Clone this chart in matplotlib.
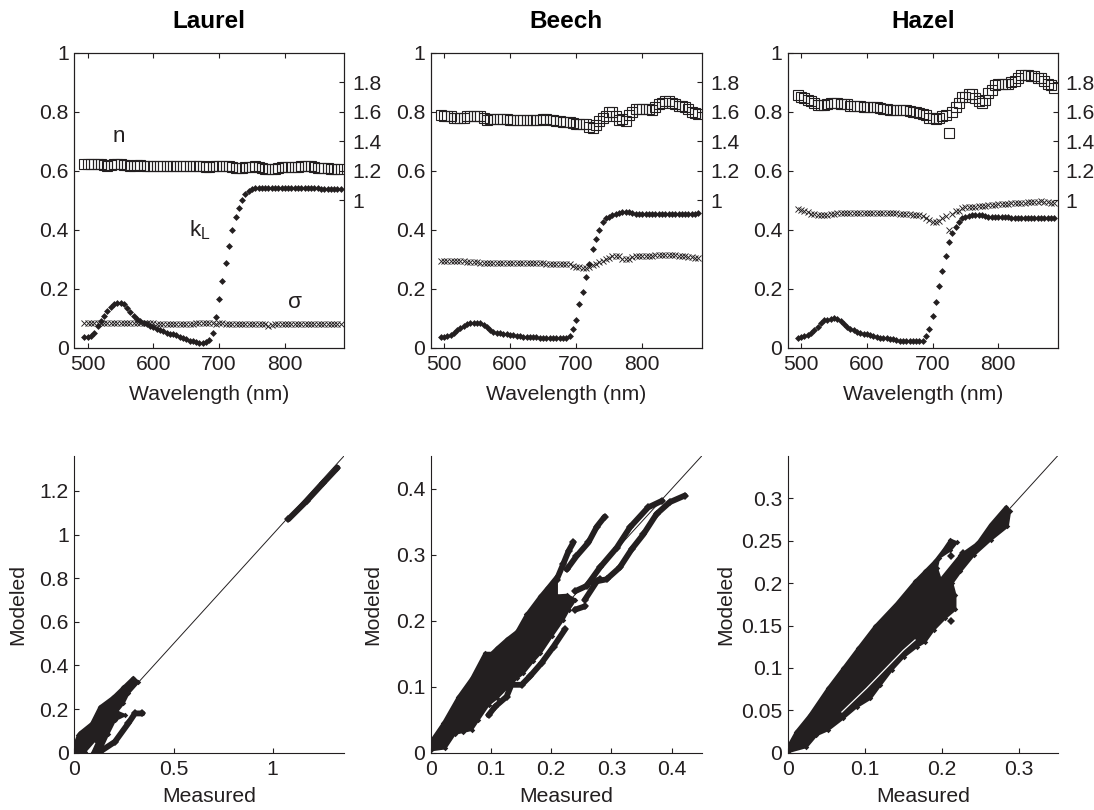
import numpy as np
import matplotlib
matplotlib.use("Agg")
import matplotlib.pyplot as plt

plt.rcParams['font.family'] = ['Liberation Sans', 'DejaVu Sans']
plt.rcParams['mathtext.fontset'] = 'custom'
plt.rcParams['mathtext.rm'] = 'Liberation Sans'
INK = '#231f20'

titles = ['Laurel', 'Beech', 'Hazel']
wavelength = list(range(495, 890, 5))

laurel_k = [.036,.036,.040,.052,.075,.092,.108,.125,.140,.148,
            .152,.153,.148,.135,.122,.108,.098,.090,.085,.080,
            .075,.070,.065,.060,.056,.051,.048,.046,.043,.038,
            .033,.029,.025,.023,.020,.018,.018,.020,.027,.052,
            .104,.165,.228,.288,.345,.400,.442,.475,.502,.520,
            .532,.538,.541,.541,.541,.541,.541,.541,.541,.541,
            .542,.543,.542,.541,.541,.541,.541,.541,.541,.541,
            .541,.541,.540,.540,.540,.540,.540,.540,.540]
laurel_n = [1.245,1.245,1.245,1.245,1.245,1.245,1.24,1.235,1.24,1.245,
            1.245,1.245,1.24,1.24,1.235,1.235,1.24,1.24,1.235,1.235,
            1.235,1.235,1.235,1.235,1.235,1.235,1.235,1.235,1.235,1.235,
            1.235,1.235,1.23,1.235,1.235,1.235,1.23,1.225,1.225,1.23,
            1.23,1.23,1.235,1.235,1.23,1.225,1.22,1.22,1.22,1.225,
            1.225,1.225,1.23,1.225,1.22,1.215,1.215,1.215,1.215,1.22,
            1.225,1.225,1.225,1.225,1.225,1.225,1.23,1.23,1.23,1.23,
            1.225,1.22,1.22,1.22,1.22,1.215,1.215,1.215,1.21]
laurel_s = [.085,.085,.085,.085,.085,.085,.085,.085,.085,.085,
            .085,.085,.085,.084,.084,.084,.084,.083,.083,.083,
            .083,.083,.082,.082,.082,.082,.082,.082,.082,.082,
            .082,.082,.082,.082,.083,.083,.083,.084,.086,.083,
            .080,.083,.083,.082,.082,.082,.082,.082,.082,.082,
            .082,.082,.082,.082,.081,.080,.076,.078,.081,.082,
            .082,.082,.082,.082,.082,.082,.082,.082,.082,.082,
            .082,.082,.082,.082,.082,.082,.082,.082,.082]

beech_k = [.037,.037,.040,.045,.050,.062,.068,.075,.080,.083,
           .085,.085,.084,.078,.070,.060,.055,.052,.050,.047,
           .046,.045,.044,.042,.040,.038,.037,.037,.036,.036,
           .034,.033,.033,.033,.033,.033,.033,.033,.034,.040,
           .065,.095,.150,.190,.240,.285,.335,.370,.400,.425,
           .440,.445,.450,.455,.458,.460,.460,.460,.458,.455,
           .453,.453,.453,.453,.453,.453,.453,.453,.453,.453,
           .453,.453,.453,.453,.453,.453,.453,.453,.458]
beech_n = [1.575,1.57,1.57,1.57,1.56,1.56,1.56,1.56,1.57,1.57,
           1.57,1.57,1.57,1.56,1.545,1.55,1.55,1.55,1.55,1.55,
           1.55,1.545,1.545,1.545,1.545,1.545,1.545,1.545,1.545,1.545,
           1.545,1.55,1.55,1.545,1.545,1.54,1.535,1.53,1.53,1.53,
           1.525,1.52,1.52,1.52,1.52,1.50,1.49,1.51,1.54,1.56,
           1.57,1.60,1.60,1.57,1.545,1.55,1.54,1.58,1.60,1.62,
           1.62,1.62,1.62,1.62,1.61,1.63,1.65,1.66,1.67,1.67,
           1.66,1.65,1.64,1.64,1.63,1.62,1.60,1.59,1.585]
beech_s = [.295,.295,.295,.295,.295,.295,.294,.293,.292,.291,
           .290,.290,.289,.288,.288,.288,.288,.288,.288,.288,
           .288,.288,.287,.287,.287,.288,.288,.288,.288,.287,
           .287,.287,.286,.286,.286,.285,.285,.284,.284,.283,
           .279,.275,.273,.272,.272,.274,.280,.285,.290,.295,
           .300,.305,.310,.311,.310,.303,.300,.303,.307,.310,
           .310,.311,.311,.312,.313,.314,.315,.315,.315,.315,
           .315,.314,.313,.312,.310,.309,.308,.306,.305]

hazel_k = [.033,.037,.040,.045,.050,.060,.072,.085,.095,.096,
           .098,.100,.098,.090,.082,.072,.065,.060,.055,.050,
           .047,.046,.043,.040,.037,.035,.034,.033,.032,.030,
           .028,.025,.024,.024,.024,.024,.024,.024,.025,.040,
           .065,.110,.155,.210,.260,.310,.360,.390,.410,.428,
           .440,.445,.448,.450,.452,.452,.450,.448,.445,.445,
           .445,.445,.445,.445,.443,.440,.440,.440,.440,.440,
           .440,.440,.440,.440,.440,.440,.440,.440,.440]
hazel_n = [1.714,1.70,1.69,1.68,1.67,1.66,1.645,1.645,1.645,1.65,
           1.66,1.66,1.66,1.655,1.65,1.65,1.64,1.64,1.64,1.64,
           1.635,1.63,1.63,1.63,1.63,1.625,1.62,1.62,1.615,1.61,
           1.61,1.61,1.61,1.61,1.605,1.60,1.595,1.59,1.585,1.58,
           1.56,1.56,1.55,1.56,1.57,1.58,1.459,1.60,1.63,1.66,
           1.70,1.70,1.72,1.72,1.69,1.67,1.66,1.68,1.73,1.75,
           1.78,1.79,1.79,1.79,1.79,1.80,1.81,1.83,1.85,1.85,
           1.85,1.84,1.84,1.83,1.83,1.81,1.79,1.78,1.76]
hazel_s = [.470,.468,.465,.460,.455,.453,.452,.452,.452,.452,
           .455,.455,.458,.458,.458,.458,.458,.458,.458,.458,
           .458,.458,.458,.458,.458,.458,.458,.458,.458,.458,
           .457,.455,.455,.455,.453,.450,.450,.450,.447,.440,
           .435,.428,.425,.430,.440,.448,.400,.455,.465,.465,
           .475,.476,.477,.478,.479,.480,.481,.482,.483,.484,
           .485,.487,.488,.489,.489,.490,.491,.491,.492,.492,
           .493,.494,.495,.496,.497,.496,.494,.492,.490]

top_series = [(laurel_n, laurel_s, laurel_k),
              (beech_n, beech_s, beech_k),
              (hazel_n, hazel_s, hazel_k)]

# Dense measured/modeled clouds, read as outlines and strands from the picture
laurel_blob = [(0,.035),(.019,.081),(.027,.091),(.086,.134),(.128,.210),(.195,.255),(.246,.300),
               (.296,.344),(.322,.324),(.271,.272),(.246,.226),(.212,.188),(.254,.172),(.204,.150),
               (.170,.088),(.128,.005),(.094,.005),(.128,.073),(.103,.058),(.052,.005),(0,0)]
laurel_strands = [[(.136,.009),(.204,.050),(.271,.134),(.305,.180),(.343,.180)],
                  [(1.079,1.070),(1.172,1.154),(1.256,1.237),(1.327,1.306)]]
beech_blob = [(0,.017),(.021,.045),(.046,.085),(.068,.113),(.090,.151),(.101,.151),(.110,.159),
              (.126,.172),(.143,.184),(.159,.210),(.182,.238),(.193,.250),(.209,.268),(.209,.238),
              (.226,.239),(.240,.232),(.229,.217),(.220,.202),(.201,.177),(.182,.151),(.170,.139),
              (.154,.121),(.143,.113),(.126,.098),(.110,.083),(.096,.073),(.079,.050),(.068,.035),
              (.054,.032),(.040,.029),(.024,.007),(0,.004)]
beech_strands = [[(.096,.057),(.107,.070),(.126,.085),(.134,.103),(.151,.103),(.165,.116),(.184,.136),(.204,.161),(.223,.187)],
                 [(.240,.245),(.259,.253),(.281,.281),(.309,.311),(.331,.342),(.361,.372),(.384,.382)],
                 [(.256,.232),(.276,.260),(.292,.263),(.314,.281),(.334,.309),(.353,.331),(.375,.362),(.397,.380),(.422,.390)],
                 [(.240,.217),(.256,.222)],
                 [(.270,.258),(.281,.263)],
                 [(.209,.262),(.220,.286),(.229,.306),(.237,.319)],
                 [(.226,.278),(.242,.298),(.262,.319),(.276,.343),(.289,.358)]]
hazel_blob = [(0,.007),(.011,.025),(.028,.044),(.052,.076),(.072,.100),(.091,.123),(.113,.149),
              (.141,.176),(.165,.202),(.178,.214),(.191,.226),(.202,.239),(.211,.251),(.219,.248),
              (.211,.239),(.196,.230),(.193,.218),(.198,.204),(.224,.233),(.246,.247),(.263,.269),
              (.283,.290),(.288,.285),(.285,.267),(.263,.251),(.241,.233),(.224,.214),(.213,.200),
              (.217,.186),(.217,.169),(.204,.159),(.189,.145),(.178,.131),(.167,.125),(.150,.113),
              (.135,.098),(.120,.080),(.107,.064),(.089,.054),(.072,.041),(.052,.027),(.037,.021),
              (.024,.007),(0,.001)]
hazel_strands = []
hazel_points = [(.212,.2315),(.212,.1555),(.227,.235),(.104,.067),(.172,.130)]
hazel_slit = [(.070,.048),(.102,.076),(.150,.121),(.165,.133)]

blobs = [laurel_blob, beech_blob, hazel_blob]
strands = [laurel_strands, beech_strands, hazel_strands]
limits = [1.36, 0.45, 0.35]
x_ticks = [[0,.5,1], [0,.1,.2,.3,.4], [0,.1,.2,.3]]
y_ticks = [[0,.2,.4,.6,.8,1,1.2], [0,.1,.2,.3,.4], [0,.05,.1,.15,.2,.25,.3]]
x_labels = [['0','0.5','1'], ['0','0.1','0.2','0.3','0.4'], ['0','0.1','0.2','0.3']]
y_labels = [['0','0.2','0.4','0.6','0.8','1','1.2'], ['0','0.1','0.2','0.3','0.4'],
            ['0','0.05','0.1','0.15','0.2','0.25','0.3']]

W, H = 1094, 810
fig = plt.figure(figsize=(W/100, H/100), dpi=100, facecolor='white')
lefts = [74.5, 430.7, 788.0]
rights = [344.0, 701.7, 1057.5]
ylabel_px = [-47.5, -48.7, -53.0]
FS = 15.2

def box(l, r, t, b):
    return [l/W, 1-b/H, (r-l)/W, (b-t)/H]

for i in range(3):
    n, s, k = top_series[i]
    ax = fig.add_axes(box(lefts[i], rights[i], 52.7, 348))
    ax.set_xlim(480, 890)
    ax.set_ylim(0, 1)
    ax.plot(wavelength, k, ls='none', marker='D', ms=3.5, color=INK, mew=0)
    ax.plot(wavelength, s, ls='none', marker='x', ms=5, mew=.65, color=INK)
    ax.set_xticks([500, 600, 700, 800])
    ax.set_yticks([0, .2, .4, .6, .8, 1])
    ax.set_yticklabels(['0', '0.2', '0.4', '0.6', '0.8', '1'])
    ax.tick_params(direction='in', length=3.5, width=.8, top=True, right=True,
                   labelsize=FS, labelcolor=INK, color=INK, pad=4)
    ax.tick_params(axis='x', pad=5)
    ax.set_xlabel('Wavelength (nm)', fontsize=FS, color=INK, labelpad=8)
    ax.set_title(titles[i], fontsize=17.5, fontweight='bold', color='black', pad=18)
    tw = ax.twinx()
    tw.set_ylim(0, 2)
    tw.plot(wavelength, n, ls='none', marker='s', ms=7.6, mfc='none', mew=.8, color=INK)
    tw.set_yticks([1, 1.2, 1.4, 1.6, 1.8])
    tw.set_yticklabels(['1', '1.2', '1.4', '1.6', '1.8'])
    tw.tick_params(direction='in', length=3.5, width=.8, labelsize=FS,
                   labelcolor=INK, color=INK, pad=6)
    for a in (ax, tw):
        for sp in a.spines.values():
            sp.set_linewidth(.8)
            sp.set_color(INK)
    if i == 0:
        ax.text(548, .715, 'n', fontsize=FS+1, color=INK, ha='center', va='center')
        ax.text(671, .40, r'k$_{\mathrm{L}}$', fontsize=FS+1, color=INK, ha='center', va='center')
        ax.text(815, .155, 'σ', fontsize=FS+1, color=INK, ha='center', va='center')

    bx = fig.add_axes(box(lefts[i], rights[i], 456, 752.7))
    lim = limits[i]
    bx.set_xlim(0, lim)
    bx.set_ylim(0, lim)
    bx.plot([0, lim], [0, lim], color=INK, lw=.7)
    blob = np.array(blobs[i])
    bx.fill(blob[:, 0], blob[:, 1], facecolor=INK, edgecolor=INK, lw=2, joinstyle='round')
    bx.plot(blob[:, 0], blob[:, 1], ls='none', marker='D', ms=2.8, mew=0, color=INK)
    for st in strands[i]:
        st = np.array(st)
        bx.plot(st[:, 0], st[:, 1], color=INK, lw=4.2, solid_capstyle='round',
                solid_joinstyle='round', marker='D', ms=4.2, mew=0)
    if i == 2:
        p = np.array(hazel_points)
        bx.plot(p[:, 0], p[:, 1], ls='none', marker='D', ms=3.6, mew=0, color=INK)
        sl = np.array(hazel_slit)
        bx.plot(sl[:, 0], sl[:, 1], color='white', lw=.9)
    bx.set_xticks(x_ticks[i])
    bx.set_xticklabels(x_labels[i])
    bx.set_yticks(y_ticks[i])
    bx.set_yticklabels(y_labels[i])
    bx.tick_params(direction='in', length=3.5, width=.8, labelsize=FS,
                   labelcolor=INK, color=INK, pad=4)
    bx.tick_params(axis='x', pad=5)
    bx.spines['top'].set_visible(False)
    bx.spines['right'].set_visible(False)
    for name in ('left', 'bottom'):
        bx.spines[name].set_linewidth(.8)
        bx.spines[name].set_color(INK)
    bx.set_xlabel('Measured', fontsize=FS, color=INK, labelpad=6)
    bx.set_ylabel('Modeled', fontsize=FS, color=INK)
    bx.yaxis.set_label_coords(ylabel_px[i]/(rights[i]-lefts[i]), .5)

fig.savefig('out.png', dpi=100, facecolor='white')
